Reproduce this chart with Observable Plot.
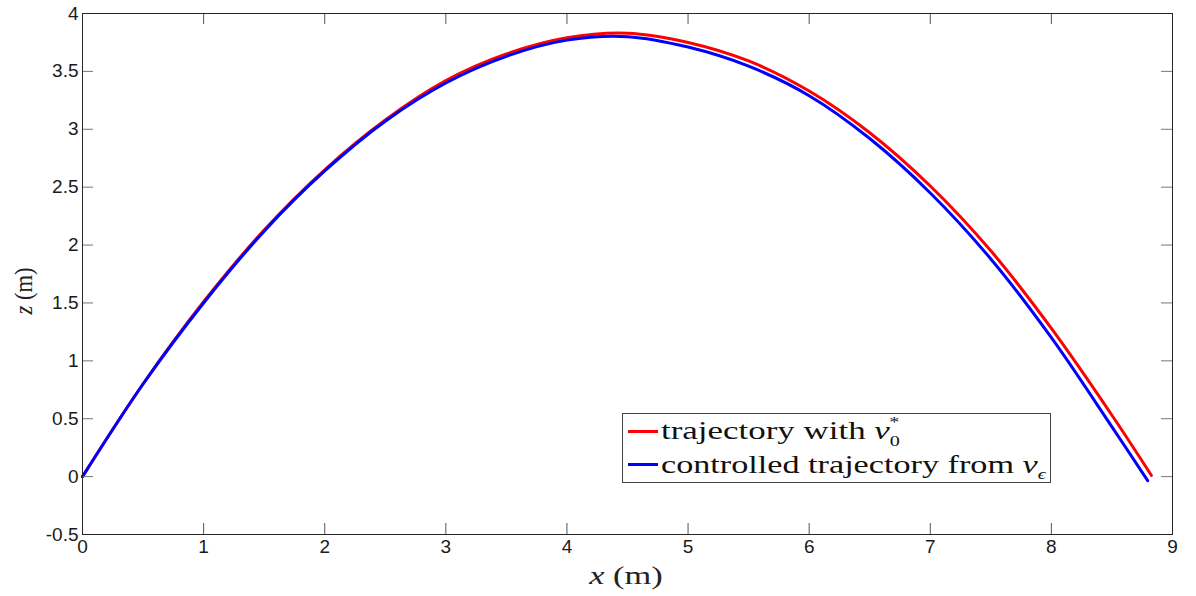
<!DOCTYPE html>
<html><head><meta charset="utf-8">
<script src="https://cdn.jsdelivr.net/npm/d3@7"></script>
<script src="https://cdn.jsdelivr.net/npm/@observablehq/plot@0.6"></script>
<style>body{margin:0;background:#fff;}</style>
</head><body><div id="chart"></div>
<script>
// Trajectory with v0* (red)
const redX = [0, 0.5, 1.0, 1.5, 2.0, 2.5, 3.0, 3.5, 4.0, 4.5, 5.0, 5.5, 6.0, 6.5, 7.0, 7.5, 8.0, 8.5, 8.826];
const redZ = [0, 0.80, 1.51, 2.13, 2.65, 3.08, 3.42, 3.65, 3.79, 3.83, 3.75, 3.59, 3.33, 2.97, 2.51, 1.95, 1.28, 0.53, 0.01];
// Controlled trajectory from v_eps (blue)
const blueX = [0, 0.5, 1.0, 1.5, 2.0, 2.5, 3.0, 3.5, 4.0, 4.5, 5.0, 5.5, 6.0, 6.5, 7.0, 7.5, 8.0, 8.5, 8.795];
const blueZ = [0, 0.80, 1.50, 2.12, 2.64, 3.07, 3.40, 3.63, 3.77, 3.80, 3.71, 3.545, 3.29, 2.92, 2.45, 1.88, 1.20, 0.43, -0.035];

const xTicks = [0, 1, 2, 3, 4, 5, 6, 7, 8, 9];
const xTickLabels = ["0", "1", "2", "3", "4", "5", "6", "7", "8", "9"];
const yTicks = [-0.5, 0, 0.5, 1, 1.5, 2, 2.5, 3, 3.5, 4];
const yTickLabels = ["-0.5", "0", "0.5", "1", "1.5", "2", "2.5", "3", "3.5", "4"];
const seriesNames = ["trajectory with ", "controlled trajectory from "];
const seriesColors = ["#ff0000", "#0000ff"];

const redData = redX.map((x, i) => ({x, z: redZ[i]}));
const blueData = blueX.map((x, i) => ({x, z: blueZ[i]}));

const W = 1196, H = 596, mL = 82, mR = 24, mT = 13, mB = 62;
const innerW = W - mL - mR, innerH = H - mT - mB, tickLen = 11;

const svgEl = Plot.plot({
  width: W, height: H,
  marginLeft: mL, marginRight: mR, marginTop: mT, marginBottom: mB,
  style: {fontFamily: "'Liberation Sans', Arial, sans-serif", fontSize: "19px", color: "#1a1a1a", background: "#fff"},
  x: {domain: [0, 9]},
  y: {domain: [-0.5, 4]},
  marks: [
    Plot.line(redData, {x: "x", y: "z", stroke: seriesColors[0], strokeWidth: 3, curve: "catmull-rom"}),
    Plot.line(blueData, {x: "x", y: "z", stroke: seriesColors[1], strokeWidth: 3, curve: "catmull-rom"}),
    Plot.tickX(xTicks, {x: d => d, stroke: "#555", insetTop: innerH - tickLen}),
    Plot.tickX(xTicks, {x: d => d, stroke: "#555", insetBottom: innerH - tickLen}),
    Plot.tickY(yTicks, {y: d => d, stroke: "#777", insetRight: innerW - tickLen}),
    Plot.tickY(yTicks, {y: d => d, stroke: "#777", insetLeft: innerW - tickLen}),
    Plot.axisX(xTicks, {tickSize: 0, tickPadding: 5, label: null, tickFormat: d => xTickLabels[xTicks.indexOf(d)]}),
    Plot.axisY(yTicks, {tickSize: 0, tickPadding: 4, label: null, tickFormat: d => yTickLabels[yTicks.indexOf(d)]}),
    Plot.frame({stroke: "#262626", strokeOpacity: 1})
  ]
});
document.getElementById("chart").appendChild(svgEl);

const svg = d3.select(svgEl);
const serif = "'Liberation Serif', 'Times New Roman', serif";

function fitText(t, x, y, targetW, rotate) {
  const w = t.node().getBBox().width || targetW;
  const s = targetW / w;
  let tr = `translate(${x},${y})`;
  if (rotate) tr += ` rotate(${rotate})`;
  tr += ` scale(${s},1)`;
  t.attr("transform", tr);
}

// x label
const xl = svg.append("text").attr("font-family", serif).attr("font-size", 25).attr("fill", "#222").attr("text-anchor", "middle");
xl.append("tspan").attr("font-style", "italic").text("x");
xl.append("tspan").text(" (m)");
fitText(xl, 626, 584, 75);

// y label
const yl = svg.append("text").attr("font-family", serif).attr("font-size", 25).attr("fill", "#222").attr("text-anchor", "middle");
yl.append("tspan").attr("font-style", "italic").text("z");
yl.append("tspan").text(" (m)");
fitText(yl, 32, 291, 48, -90);

// legend
const lg = svg.append("g");
lg.append("rect").attr("x", 622.5).attr("y", 413.5).attr("width", 428).attr("height", 69)
  .attr("fill", "#fff").attr("stroke", "#444").attr("stroke-width", 1);
const rows = [
  {y: 431.5, base: 438.5, end: 900},
  {y: 464.5, base: 472.5, end: 1047}
];
rows.forEach((r, i) => {
  lg.append("line").attr("x1", 628).attr("x2", 658).attr("y1", r.y).attr("y2", r.y)
    .attr("stroke", seriesColors[i]).attr("stroke-width", 3);
  const t = lg.append("text").attr("font-family", serif).attr("font-size", 26).attr("fill", "#111").attr("text-anchor", "start");
  t.append("tspan").text(seriesNames[i]);
  t.append("tspan").attr("font-style", "italic").text("v");
  if (i === 0) {
    t.append("tspan").attr("font-size", 15).attr("dy", 7).text("0");
    t.append("tspan").attr("font-size", 15).attr("dx", -8).attr("dy", -19).text("*");
  } else {
    t.append("tspan").attr("font-size", 15).attr("font-style", "italic").attr("dy", 6).text("ϵ");
  }
  fitText(t, 661, r.base, r.end - 661);
});
</script>
</body></html>
